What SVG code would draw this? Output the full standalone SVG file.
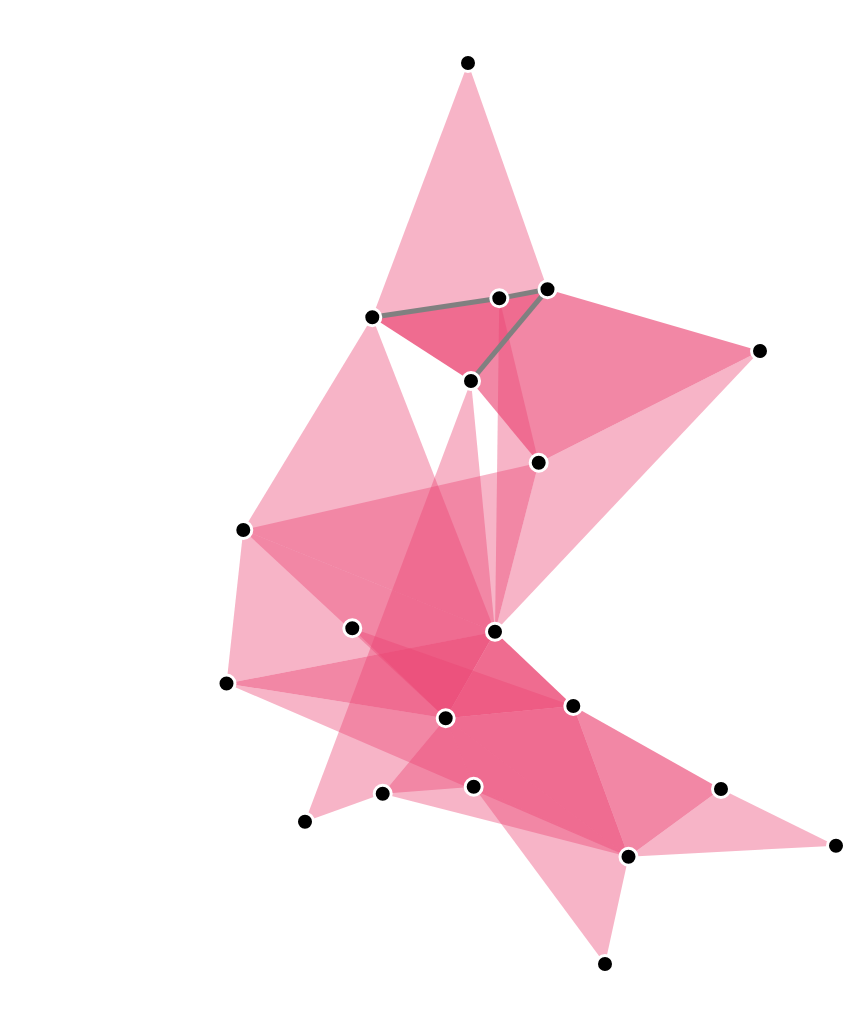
<svg xmlns="http://www.w3.org/2000/svg" width="863" height="1036" viewBox="0 0 863 1036">
<style>
.t{fill:#eb4372;fill-opacity:0.4}
.t2{fill:#eb4372;fill-opacity:0.64}
.t3{fill:#eb4372;fill-opacity:0.784}
.lk{stroke:#808080;stroke-width:5;fill:none}
.nd{fill:#000;stroke:#fff;stroke-width:3}
</style>
<rect width="863" height="1036" fill="#fff"/>
<g id="triangles">
<polygon class="t" points="468,63 372.3,317.3 547.5,289.3"/>
<polygon class="t3" points="372.3,317.3 547.5,289.3 471,381"/>
<polygon class="t2" points="471,381 547.5,289.3 760,351 538.7,462.7"/>
<polygon class="t" points="499.3,298.3 538.7,462.7 495,631.7"/>
<polygon class="t" points="760,351 538.7,462.7 495,631.7"/>
<polygon class="t" points="372.3,317.3 243.3,530 495,631.7"/>
<polygon class="t" points="243.3,530 538.7,462.7 495,631.7"/>
<polygon class="t" points="471,381 305,821.7 382.7,793.7 445.7,718.3 495,631.7"/>
<polygon class="t" points="243.3,530 226.5,683.5 495,631.7"/>
<polygon class="t" points="243.3,530 495,631.7 445.7,718.3"/>
<polygon class="t2" points="226.5,683.5 495,631.7 445.7,718.3"/>
<polygon class="t" points="352.3,628.3 445.7,718.3 573.3,706"/>
<polygon class="t3" points="495,631.7 445.7,718.3 573.3,706"/>
<polygon class="t" points="226.5,683.5 445.7,718.3 573.3,706 628.5,856.7"/>
<polygon class="t" points="445.7,718.3 573.3,706 628.5,856.7"/>
<polygon class="t" points="382.7,793.7 445.7,718.3 573.3,706 628.5,856.7"/>
<polygon class="t" points="382.7,793.7 445.7,718.3 473.7,786.7"/>
<polygon class="t" points="473.7,786.7 445.7,718.3 628.5,856.7"/>
<polygon class="t" points="473.7,786.7 605,964 628.5,856.7"/>
<polygon class="t2" points="573.3,706 721,789 628.5,856.7"/>
<polygon class="t" points="721,789 836,845.7 628.5,856.7"/>
</g>
<g id="links">
<line class="lk" x1="372.3" y1="317.3" x2="499.3" y2="298.3"/>
<line class="lk" x1="499.3" y1="298.3" x2="547.5" y2="289.3"/>
<line class="lk" x1="547.5" y1="289.3" x2="471" y2="381"/>
</g>
<g id="nA"><circle class="nd" cx="468" cy="63" r="8.5"/></g>
<g id="nB"><circle class="nd" cx="547.5" cy="289.3" r="8.5"/></g>
<g id="nC"><circle class="nd" cx="499.3" cy="298.3" r="8.5"/></g>
<g id="nD"><circle class="nd" cx="372.3" cy="317.3" r="8.5"/></g>
<g id="nE"><circle class="nd" cx="471" cy="381" r="8.5"/></g>
<g id="nF"><circle class="nd" cx="760" cy="351" r="8.5"/></g>
<g id="nG"><circle class="nd" cx="538.7" cy="462.7" r="8.5"/></g>
<g id="nH"><circle class="nd" cx="243.3" cy="530" r="8.5"/></g>
<g id="nI"><circle class="nd" cx="352.3" cy="628.3" r="8.5"/></g>
<g id="nJ"><circle class="nd" cx="495" cy="631.7" r="8.5"/></g>
<g id="nK"><circle class="nd" cx="226.5" cy="683.5" r="8.5"/></g>
<g id="nL"><circle class="nd" cx="445.7" cy="718.3" r="8.5"/></g>
<g id="nM"><circle class="nd" cx="573.3" cy="706" r="8.5"/></g>
<g id="nN"><circle class="nd" cx="721" cy="789" r="8.5"/></g>
<g id="nO"><circle class="nd" cx="473.7" cy="786.7" r="8.5"/></g>
<g id="nP"><circle class="nd" cx="382.7" cy="793.7" r="8.5"/></g>
<g id="nQ"><circle class="nd" cx="305" cy="821.7" r="8.5"/></g>
<g id="nR"><circle class="nd" cx="628.5" cy="856.7" r="8.5"/></g>
<g id="nS"><circle class="nd" cx="836" cy="845.7" r="8.5"/></g>
<g id="nT"><circle class="nd" cx="605" cy="964" r="8.5"/></g>
</svg>
